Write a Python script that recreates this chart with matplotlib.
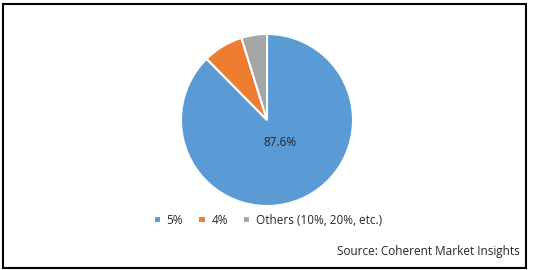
import matplotlib.pyplot as plt
from matplotlib.patches import Rectangle

labels = ['5%', '4%', 'Others (10%, 20%, etc.)']
shares = [87.6, 7.6, 4.8]
colors = ['#5B9BD5', '#ED7D31', '#A5A5A5']

plt.rcParams['font.family'] = ['Open Sans', 'DejaVu Sans']

fig = plt.figure(figsize=(5.33, 2.70), dpi=100)
ax = fig.add_axes([267/533 - 86/533, 1 - (120 + 86)/270, 172/533, 172/270])

wedges, texts = ax.pie(shares, colors=colors, startangle=90, counterclock=False,
                       wedgeprops=dict(edgecolor='white', linewidth=1.5))
ax.set_xlim(-1, 1)
ax.set_ylim(-1, 1)
ax.set_aspect('equal')
ax.text(0.15, -0.26, '87.6%', ha='center', va='center', fontsize=8.5, color='#262626')

fig.patches.append(Rectangle((3/533, 1 - 268/270), 523/533, 264/270, transform=fig.transFigure,
                             fill=False, edgecolor='black', linewidth=1.5))

fig.legend(wedges, labels, loc='center', bbox_to_anchor=(268/533, 1 - 220/270), ncol=3,
           frameon=False, fontsize=8.5, handlelength=0.6, handleheight=0.6,
           handletextpad=0.5, columnspacing=1.3, labelcolor='#262626')

fig.text(520/533, 1 - 252/270, 'Source: Coherent Market Insights', ha='right', va='center',
         fontsize=8.5, color='#262626')

fig.savefig('out.png', dpi=100)
